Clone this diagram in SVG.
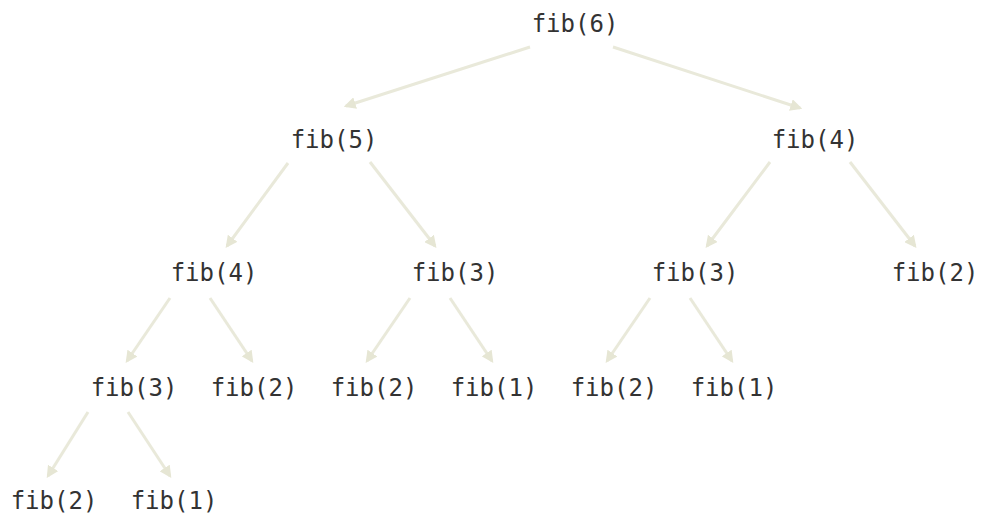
<svg xmlns="http://www.w3.org/2000/svg" width="982" height="519" viewBox="0 0 982 519">
<style>
text{font-family:"DejaVu Sans Mono","Liberation Mono",monospace;font-size:24px;fill:#333;text-anchor:middle}
.e{stroke:#e9e9da;stroke-width:3;fill:none;marker-end:url(#ah)}
</style>
<defs>
<marker id="ah" viewBox="0 0 10 10" refX="8" refY="5" markerWidth="4" markerHeight="4" orient="auto" markerUnits="strokeWidth">
<path d="M0,0L10,5L0,10z" fill="#e6e6d4"/>
</marker>
</defs>
<rect width="982" height="519" fill="#fff"/>
<g id="edges">
<line class="e" x1="530" y1="47" x2="346" y2="106"/>
<line class="e" x1="613" y1="47" x2="800" y2="108"/>
<line class="e" x1="288" y1="163" x2="227" y2="246"/>
<line class="e" x1="370" y1="162" x2="435" y2="246"/>
<line class="e" x1="770" y1="162" x2="707" y2="246"/>
<line class="e" x1="850" y1="162" x2="915" y2="246"/>
<line class="e" x1="170" y1="298" x2="127" y2="361"/>
<line class="e" x1="210" y1="298" x2="252" y2="361"/>
<line class="e" x1="410" y1="298" x2="367" y2="361"/>
<line class="e" x1="450" y1="298" x2="492" y2="361"/>
<line class="e" x1="650" y1="298" x2="607" y2="361"/>
<line class="e" x1="690" y1="298" x2="732" y2="361"/>
<line class="e" x1="88" y1="412" x2="48" y2="476"/>
<line class="e" x1="128" y1="412" x2="170" y2="476"/>
</g>
<g id="n6"><text x="575" y="32">fib(6)</text></g>
<g id="n5"><text x="334" y="148">fib(5)</text></g>
<g id="n4r"><text x="815" y="148">fib(4)</text></g>
<g id="n4"><text x="214" y="281">fib(4)</text></g>
<g id="n3a"><text x="455" y="281">fib(3)</text></g>
<g id="n3b"><text x="695" y="281">fib(3)</text></g>
<g id="n2a"><text x="935" y="281">fib(2)</text></g>
<g id="n3c"><text x="134" y="396">fib(3)</text></g>
<g id="n2b"><text x="254" y="396">fib(2)</text></g>
<g id="n2c"><text x="374" y="396">fib(2)</text></g>
<g id="n1a"><text x="494" y="396">fib(1)</text></g>
<g id="n2d"><text x="614" y="396">fib(2)</text></g>
<g id="n1b"><text x="734" y="396">fib(1)</text></g>
<g id="n2e"><text x="54" y="509">fib(2)</text></g>
<g id="n1c"><text x="174" y="509">fib(1)</text></g>
</svg>
